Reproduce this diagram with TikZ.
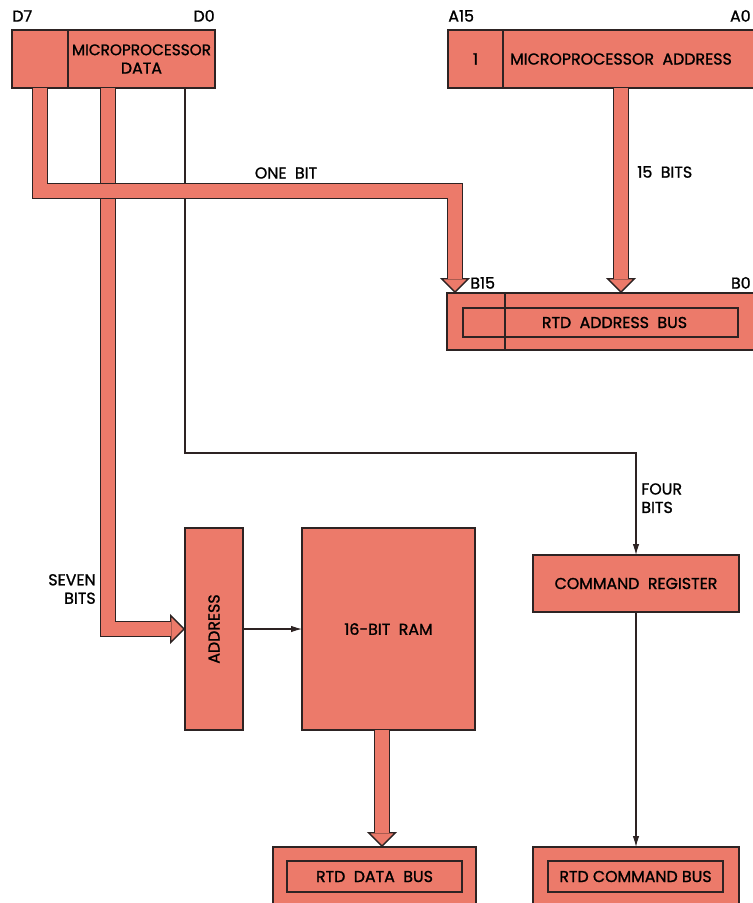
\documentclass[tikz,border=0pt]{standalone}
\usepackage{fontspec}
\setmainfont{Poppins}[FakeBold=1.2]
\usetikzlibrary{arrows.meta,positioning}
\definecolor{salm}{RGB}{236,122,106}
\definecolor{ink}{RGB}{45,35,35}

\begin{document}
\begin{tikzpicture}[
		x=0.02cm, y=-0.02cm,
		font=\fontsize{9}{10.5}\selectfont,
		cell/.style={draw=ink, fill=salm, line width=0.8pt, inner sep=0pt, outer sep=0pt, align=center},
		inbox/.style={draw=ink, line width=0.8pt, inner sep=0pt},
		tag/.style={inner sep=0pt, align=left},
		wire/.style={draw=ink, line width=0.6pt, -{Latex[length=0.22cm,width=0.13cm]}},
		bus/.style={draw=ink, line width=0.8pt, double=salm, double distance=0.28cm, shorten >=0.28cm},
		bushead/.style={draw=ink, line width=0.8pt, -{Triangle[width=0.6cm,length=0.3cm,fill=salm]}}
		]
		\useasboundingbox (0,0) rectangle (753,903);
		\clip (0,0) rectangle (753,903);
		
		% microprocessor side
		\node[cell, minimum width=1.12cm, minimum height=1.16cm] (dmsb) at (40,59) {};
		\node[cell, minimum width=2.94cm, minimum height=1.16cm, right=0pt of dmsb] (dtxt) {\fontsize{8.7}{10.5}\selectfont MICROPROCESSOR\\DATA};
		\node[tag, anchor=south west] (d7) at (12,22) {D7};
		\node[tag, anchor=south east] (d0) at (215,22) {D0};
		
		\node[cell, minimum width=1.1cm, minimum height=1.16cm] (amsb) at (475.5,59) {1};
		\node[cell, minimum width=5.44cm, minimum height=1.16cm, right=0pt of amsb,
			label={[xshift=-0.36cm]center:MICROPROCESSOR~~ADDRESS}] (atxt) {};
		\node[tag, anchor=south west] (a15) at (448,22) {A15};
		\node[tag, anchor=south east] (a0) at (751,22) {A0};
		
		% rtd address bus
		\node[cell, minimum width=1.16cm, minimum height=1.14cm] (bmsb) at (476,321.5) {};
		\node[cell, minimum width=5.4cm, minimum height=1.14cm, right=0pt of bmsb] (btxt) {};
		\node[inbox, minimum width=5.5cm, minimum height=0.58cm] (bin) at (600.5,322.5) {\hspace{0.56cm}RTD~~ADDRESS~~BUS};
		\node[tag, anchor=south west] (b15) at (470,289) {B15};
		\node[tag, anchor=south east] (b0) at (751,289) {B0};
		
		% ram and command blocks
		\node[cell, minimum width=1.16cm, minimum height=4.04cm, label={[rotate=90]center:ADDRESS}] (addr) at (214,629) {};
		\node[cell, minimum width=3.46cm, minimum height=4.04cm] (ram) at (388.5,629) {16-BIT~~RAM};
		\node[cell, minimum width=4.12cm, minimum height=1.14cm] (cmd) at (636,583.5) {COMMAND~~REGISTER};
		
		\node[cell, minimum width=4.06cm, minimum height=1.36cm] (dbus) at (374.5,881) {};
		\node[inbox, minimum width=3.5cm, minimum height=0.62cm] (dbin) at (374.5,876.5) {RTD~~DATA~~BUS};
		\node[cell, minimum width=4.12cm, minimum height=1.36cm] (cbus) at (636,881) {};
		\node[inbox, minimum width=3.5cm, minimum height=0.62cm] (cbin) at (635.5,876.5) {RTD~COMMAND~BUS};
		
		% bit counts
		\node[tag, anchor=center] (l1) at (286,173) {ONE~~BIT};
		\node[tag, anchor=west] (l15) at (637,172) {15~~BITS};
		\node[tag, anchor=north west] (l4) at (641,483) {FOUR\\BITS};
		\node[tag, anchor=east, align=right] (l7) at (96,589) {SEVEN\\BITS};
		
		\coordinate (c0) at (185,0);
		\coordinate (c7) at (108,0);
		\coordinate (c1) at (455,191);
		\coordinate (c15) at (621,0);
		\coordinate (cr) at (382,0);
		\coordinate (cc) at (636,453);
		
		% thin lines
		\draw[wire] (c0 |- dtxt.south) |- (cc) -- (cmd.north);
		\draw[wire] (addr.east) -- (ram.west);
		\draw[wire] (cmd.south) -- (cbus.north);
		
		% fat buses
		\draw[bushead] (c7 |- dtxt.south) |- (addr.west);
		\draw[bus] (c7 |- dtxt.south) |- (addr.west);
		\draw[bushead] (dmsb.south) |- (c1) -- (c1 |- bmsb.north);
		\draw[bus] (dmsb.south) |- (c1) -- (c1 |- bmsb.north);
		\draw[bushead] (c15 |- atxt.south) -- (c15 |- btxt.north);
		\draw[bus] (c15 |- atxt.south) -- (c15 |- btxt.north);
		\draw[bushead] (cr |- ram.south) -- (cr |- dbus.north);
		\draw[bus] (cr |- ram.south) -- (cr |- dbus.north);
	\end{tikzpicture}
\end{document}
